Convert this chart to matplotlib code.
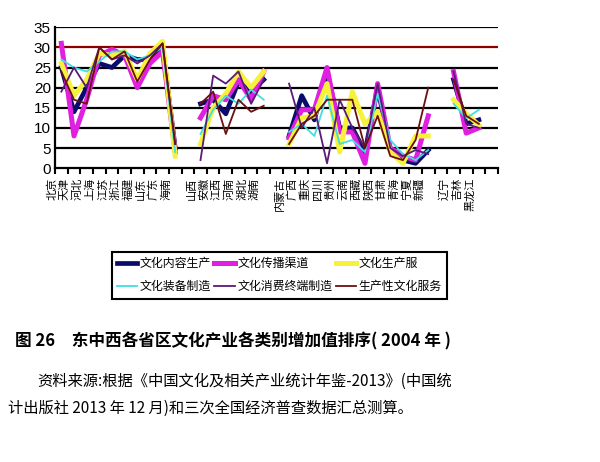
import numpy as np
import matplotlib
matplotlib.use("Agg")
import matplotlib.pyplot as plt
from matplotlib.transforms import ScaledTranslation

plt.rcParams["font.family"] = ["Noto Sans CJK SC", "DejaVu Sans"]

nan = np.nan

# ---------- data (rank of each province, gaps separate the regions) ----------
provinces = ["北京", "天津", "河北", "上海", "江苏", "浙江", "福建", "山东", "广东", "海南", "",
             "山西", "安徽", "江西", "河南", "湖北", "湖南", "",
             "内蒙古", "广西", "重庆", "四川", "贵州", "云南", "西藏", "陕西", "甘肃", "青海", "宁夏", "新疆", "",
             "辽宁", "吉林", "黑龙江", ""]

content = [25, 14, 20, 26, 25, 28, 27, 27, 30, 5, nan,
           16, 17, 13.5, 21.5, 19, 22, nan,
           8, 18, 12, 24, 10, 10, 4, 20, 4.5, 2, 1.2, 4.5, nan,
           22, 11, 12, nan]
channel = [31, 8, 17, 28, 29.5, 28, 20, 26, 29, 4, nan,
           12.5, 18, 17, 22, 17, 24, nan,
           7.5, 14.5, 14.5, 25, 9, 9, 1.2, 21, 5, 3, 2, 13, nan,
           24, 8.7, 10, nan]
service = [26, 18, 22, 28.5, 28, 29, 22, 28.5, 31.5, 3, nan,
           6, 15, 18.5, 24, 20, 24, nan,
           6, 12.5, 13, 21, 4, 19, 11, 14, 4, 1.2, 8, 8, nan,
           17, 13.5, 10.7, nan]
equipment = [27, 25, 24, 26.5, 29, 29, 27, 28, 30, 4, nan,
             8.5, 14.5, 18, 16, 19.5, 17, nan,
             9, 11, 8, 18, 6, 7, 4, 18.5, 7, 3.5, 2, 4.5, nan,
             16, 12.4, 14.5, nan]
terminal = [19, 25, 20, 30, 27, 28, 26, 28, 31, 6, nan,
            2, 23, 21, 24, 16, 22, nan,
            21, 10, 15, 1.2, 17, 10, 5, 21, 5, 3, 4.5, 3.5, nan,
            24, 11, 10, nan]
productive = [24, 17, 16, 30, 27, 29, 21.5, 27, 31, 6, nan,
              16, 19, 8.5, 17, 14, 15.5, nan,
              6, 11, 13, 17, 17, 17, 5, 13, 3, 2, 7, 20, nan,
              22, 13, 11, nan]

series = [
    ("文化内容生产", content, "#0b0b6b", 3.4),
    ("文化传播渠道", channel, "#e020e0", 3.6),
    ("文化生产服", service, "#f6f23a", 3.6),
    ("文化装备制造", equipment, "#3fe0e0", 1.3),
    ("文化消费终端制造", terminal, "#5a1a78", 1.3),
    ("生产性文化服务", productive, "#6b1010", 1.3),
]

fig = plt.figure(figsize=(6, 4.62), dpi=100)
ax = fig.add_axes([0.0917, 0.636, 0.738, 0.305])

x = np.arange(len(provinces))
handles = []
for name, vals, color, lw in series:
    h, = ax.plot(x, vals, color=color, lw=lw, label=name, zorder=3)
    handles.append(h)

# horizontal grid lines (30 drawn dark red as in the original)
for yv in range(5, 36, 5):
    ax.axhline(yv, color="#8b0000" if yv == 30 else "black", lw=1.6, zorder=1)

ax.set_xlim(-0.5, len(provinces) - 0.5)
ax.set_ylim(0, 35)
ax.set_yticks(range(0, 36, 5))
ax.tick_params(axis="y", length=0, pad=3, labelsize=11)
for lab in ax.get_yticklabels():
    lab.set_family(["Liberation Sans", "DejaVu Sans"])

ax.set_xticks(x)
ax.set_xticklabels(provinces, rotation=90, fontsize=8, va="top", ha="center")
ax.set_xticks(np.arange(-0.5, len(provinces), 1), minor=True)
ax.tick_params(axis="x", which="major", length=0, pad=7)
ax.tick_params(axis="x", which="minor", length=4, width=1.5, direction="out")
shift = ScaledTranslation(-0.09, 0, fig.dpi_scale_trans)
for lab in ax.get_xticklabels():
    lab.set_transform(lab.get_transform() + shift)

for side in ["top", "right"]:
    ax.spines[side].set_visible(False)
for side in ["left", "bottom"]:
    ax.spines[side].set_linewidth(1.6)

# legend filled row by row: 3 per row
order = [0, 3, 1, 4, 2, 5]
leg = fig.legend([handles[i] for i in order], [series[i][0] for i in order],
                 loc="upper left", bbox_to_anchor=(0.176, 0.468), ncol=3,
                 fancybox=False, edgecolor="black", framealpha=1, fontsize=8.6,
                 handlelength=1.7, handletextpad=0.2, columnspacing=0.3,
                 borderpad=0.45, labelspacing=0.85)
leg.get_frame().set_linewidth(1.5)

fig.text(0.025, 0.26, "图 26　东中西各省区文化产业各类别增加值排序( 2004 年 )",
         fontsize=12, fontweight="bold", va="center", ha="left")
fig.text(0.062, 0.174, "资料来源:根据《中国文化及相关产业统计年鉴-2013》(中国统",
         fontsize=11, va="center", ha="left")
fig.text(0.013, 0.117, "计出版社 2013 年 12 月)和三次全国经济普查数据汇总测算。",
         fontsize=11, va="center", ha="left")

fig.savefig("out.png", dpi=100)
